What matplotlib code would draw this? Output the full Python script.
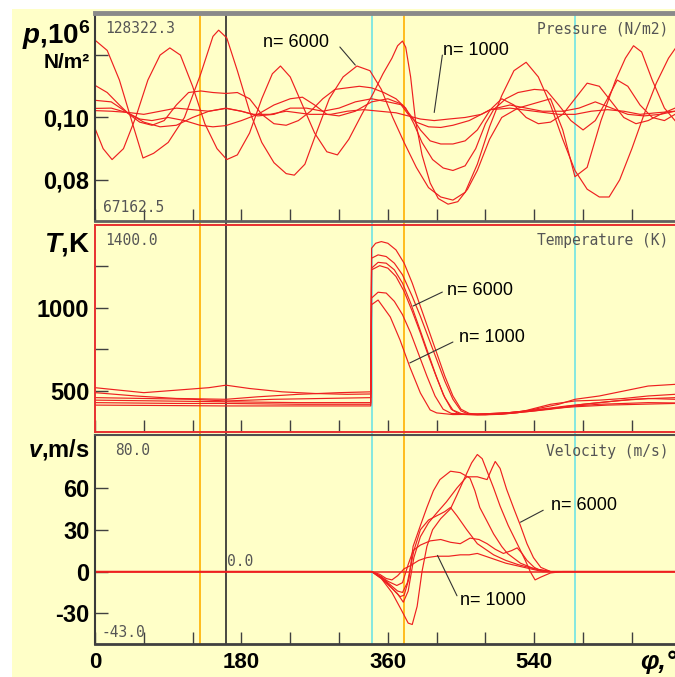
import matplotlib
matplotlib.use("Agg")
import matplotlib.pyplot as plt
import matplotlib.transforms as mtransforms
from matplotlib.patches import Rectangle
from matplotlib.lines import Line2D

plt.rcParams['font.family'] = ['Liberation Sans', 'DejaVu Sans']
plt.rcParams['font.weight'] = 'bold'
plt.rcParams['mathtext.fontset'] = 'custom'
plt.rcParams['mathtext.rm'] = 'Liberation Sans:bold'
plt.rcParams['mathtext.it'] = 'Liberation Sans:bold:italic'
plt.rcParams['mathtext.bf'] = 'Liberation Sans:bold'

# ---- pressure, MPa (6 runs)
p1_phi = [0, 15, 30, 45, 59, 72, 90, 110, 130, 145, 152, 162, 175, 190, 205, 220, 235, 245, 258, 272,
          288, 305, 322, 338, 352, 366, 380, 395, 410, 425, 440, 455, 470, 485, 500, 515, 530, 545, 560, 575,
          590, 605, 620, 632, 645, 660, 675, 690, 705, 713]
p1 = [.1248, .1215, .1120, .0990, .0870, .0885, .0920, .1000, .1140, .1260, .1280, .1255, .1150, .1020, .0920,
      .0855, .0820, .0815, .0850, .0950, .1060, .1130, .1165, .1150, .1090, .1000, .0920, .0840, .0775, .0745,
      .0735, .0760, .0850, .0970, .1070, .1150, .1177, .1130, .1040, .0930, .0830, .0770, .0745, .0745, .0800,
      .0900, .1010, .1110, .1190, .1220]
p2_phi = [0, 10, 21, 35, 50, 65, 80, 92, 105, 120, 135, 150, 162, 175, 190, 205, 218, 228, 240, 255,
          270, 285, 298, 312, 328, 342, 354, 365, 372, 378, 382, 388, 394, 402, 412, 422, 434, 446, 458, 470,
          485, 500, 520, 540, 560, 575, 590, 605, 622, 640, 652, 662, 672, 685, 700, 713]
p2 = [.0965, .0900, .0865, .0900, .1000, .1120, .1200, .1223, .1200, .1100, .0980, .0900, .0865, .0880, .0950,
      .1060, .1140, .1165, .1130, .1040, .0950, .0890, .0880, .0930, .1010, .1077, .1140, .1190, .1230, .1245,
      .1225, .1130, .0990, .0880, .0790, .0740, .0722, .0730, .0770, .0830, .0930, .1000, .1030, .1045, .1060,
      .0960, .0810, .0840, .0990, .1120, .1190, .1230, .1210, .1120, .1030, .0990]
p3_phi = [0, 15, 30, 42, 55, 70, 85, 100, 115, 130, 145, 161, 175, 190, 205, 220, 235, 250, 265, 280,
          295, 310, 325, 340, 355, 370, 382, 392, 402, 415, 428, 440, 455, 468, 480, 490, 505, 520, 540, 555,
          570, 585, 600, 615, 630, 642, 655, 670, 685, 700, 713]
p3 = [.1103, .1080, .1040, .1010, .0985, .0975, .0990, .1040, .1080, .1085, .1080, .1077, .1080, .1060, .1010,
      .0980, .0975, .0990, .1020, .1060, .1090, .1095, .1100, .1095, .1080, .1060, .1030, .0980, .0920, .0865,
      .0838, .0830, .0845, .0900, .0980, .1025, .1060, .1080, .1090, .1087, .1040, .0990, .0960, .0990, .1060,
      .1120, .1100, .1040, .1000, .0990, .1010]
p4_phi = [0, 20, 40, 60, 80, 100, 120, 140, 161, 180, 200, 220, 240, 260, 280, 300, 320, 340, 360, 378,
          390, 400, 412, 425, 440, 455, 470, 486, 500, 515, 530, 545, 560, 575, 590, 605, 620, 635, 650, 665,
          680, 695, 713]
p4 = [.1055, .1050, .1015, .0985, .0970, .0975, .1000, .1020, .1029, .1020, .1005, .1010, .1030, .1030, .1020,
      .1030, .1050, .1060, .1050, .1040, .1000, .0960, .0925, .0915, .0915, .0925, .0960, .1025, .1060, .1040,
      .1000, .0980, .0985, .1010, .1060, .1110, .1100, .1050, .1000, .0980, .0990, .1010, .1030]
p5_phi = [0, 20, 40, 55, 70, 90, 110, 129, 145, 161, 180, 200, 220, 240, 255, 270, 285, 300, 320, 340,
          360, 375, 385, 395, 410, 425, 440, 460, 486, 510, 530, 550, 575, 595, 615, 635, 655, 675, 695, 713]
p5 = [.1029, .1030, .1015, .0995, .0990, .1000, .0990, .0975, .0970, .0974, .0990, .1010, .1040, .1060, .1065,
      .1040, .1010, .1005, .1020, .1050, .1060, .1045, .1010, .0985, .0970, .0968, .0975, .0990, .1025, .1040,
      .1030, .1020, .1020, .1030, .1050, .1030, .1010, .1005, .1010, .1020]
p6_phi = [0, 20, 41, 60, 80, 100, 120, 140, 161, 180, 195, 215, 235, 264, 290, 310, 330, 350, 370, 385,
          400, 417, 435, 455, 475, 486, 510, 540, 570, 590, 610, 630, 650, 670, 690, 713]
p6 = [.1022, .1020, .1016, .1010, .1020, .1030, .1025, .1020, .1030, .1020, .1010, .1010, .1020, .1010, .1010,
      .1020, .1025, .1020, .1015, .1005, .0995, .0990, .0995, .1000, .1010, .1025, .1030, .1020, .1010, .1010,
      .1020, .1025, .1020, .1010, .1015, .1020]

# ---- temperature, K
t1_phi = [0, 40, 60, 100, 140, 161, 190, 230, 270, 310, 339, 340, 345, 352, 360, 370, 380, 390, 400, 410,
          420, 430, 440, 450, 460, 470, 490, 510, 530, 550, 570, 590, 620, 650, 680, 713]
t1 = [520, 500, 490, 505, 520, 535, 515, 495, 485, 480, 482, 1360, 1390, 1400, 1390, 1350, 1270, 1150, 1010, 870,
      730, 590, 470, 390, 365, 360, 365, 370, 380, 400, 420, 450, 470, 500, 530, 540]
t2_phi = [0, 50, 100, 161, 200, 250, 300, 339, 340, 348, 358, 368, 378, 390, 400, 410, 420, 430, 440, 450,
          460, 480, 500, 520, 540, 560, 590, 620, 650, 680, 713]
t2 = [490, 470, 455, 450, 465, 480, 490, 495, 1300, 1320, 1310, 1270, 1200, 1070, 950, 820, 690, 560, 450, 380,
      360, 358, 362, 370, 395, 420, 440, 445, 455, 470, 480]
t3_phi = [0, 60, 120, 161, 220, 280, 339, 340, 348, 358, 368, 378, 388, 398, 408, 418, 428, 438, 448, 470,
          500, 530, 560, 590, 620, 650, 680, 713]
t3 = [460, 455, 450, 440, 450, 455, 460, 1240, 1275, 1270, 1230, 1150, 1030, 890, 750, 610, 480, 390, 360, 355,
      360, 375, 390, 410, 420, 425, 430, 428]
t4_phi = [0, 80, 161, 250, 339, 340, 350, 360, 370, 380, 390, 400, 410, 420, 430, 440, 452, 480, 510, 540,
          570, 600, 640, 680, 713]
t4 = [445, 440, 435, 430, 430, 1230, 1255, 1240, 1190, 1100, 980, 850, 710, 580, 460, 385, 360, 358, 365, 380,
      400, 420, 440, 455, 450]
t5_phi = [0, 100, 161, 250, 339, 340, 348, 358, 368, 378, 388, 398, 408, 418, 428, 438, 460, 500, 540, 580,
          620, 660, 713]
t5 = [430, 425, 425, 420, 420, 1060, 1095, 1090, 1040, 960, 850, 720, 590, 470, 390, 365, 360, 365, 385, 410,
      430, 450, 460]
t6_phi = [0, 100, 161, 250, 339, 340, 348, 363, 375, 387, 400, 412, 420, 440, 470, 510, 550, 590, 630, 670, 713]
t6 = [415, 412, 410, 410, 410, 1020, 1048, 946, 807, 645, 488, 386, 368, 358, 360, 370, 390, 405, 415, 420, 425]

# ---- velocity, m/s
v1_phi = [0, 340, 352, 365, 377, 385, 390, 396, 402, 408, 415, 425, 437, 445, 455, 463, 470, 476, 482, 490,
          498, 508, 519, 529, 535, 541, 548, 560, 575, 713]
v1 = [0, 0, -5, -15, -28, -37, -38, -25, 0, 18, 30, 38, 45, 55, 68, 78, 84, 81, 72, 60,
      47, 33, 20, 8, 0, -6, -4, -1, 0, 0]
v2_phi = [0, 340, 352, 362, 372, 379, 385, 392, 400, 410, 420, 432, 445, 457, 470, 482, 488, 492, 498, 506,
          515, 523, 531, 539, 548, 560, 713]
v2 = [0, 0, -4, -10, -16, -22, -14, 10, 25, 35, 42, 50, 60, 68, 68, 66, 74, 79, 74, 59,
      45, 33, 20, 10, 3, 0, 0]
v3_phi = [0, 340, 352, 365, 375, 380, 386, 391, 400, 408, 416, 424, 437, 449, 461, 467, 473, 482, 490, 500,
          507, 523, 540, 560, 713]
v3 = [0, 0, -5, -12, -18, -17, -5, 18, 33, 46, 58, 66, 72, 71, 67, 58, 46, 36, 27, 18,
      13, 6, 2, 0, 0]
v4_phi = [0, 340, 352, 362, 372, 378, 384, 392, 400, 410, 420, 430, 437, 445, 457, 470, 490, 505, 520, 540,
          560, 713]
v4 = [0, 0, -4, -9, -14, -15, -8, 15, 30, 37, 40, 43, 46, 40, 30, 20, 12, 8, 5, 2, 0, 0]
v5_phi = [0, 340, 350, 360, 371, 378, 385, 391, 400, 412, 425, 437, 449, 461, 472, 482, 492, 502, 512, 519,
          525, 531, 540, 550, 713]
v5 = [0, 0, -3, -7, -10, -8, 5, 15, 19, 22, 23, 21, 20, 24, 23, 20, 16, 13, 15, 17, 13, 8, 3, 0, 0]
v6_phi = [0, 340, 350, 358, 365, 372, 380, 387, 398, 408, 420, 435, 449, 460, 470, 480, 490, 505, 520, 535,
          550, 713]
v6 = [0, 0, -2, -5, -6, -3, 2, 4, 8, 10, 11, 11, 12, 12, 13, 11, 9, 6, 4, 2, 0, 0]

# markers along the crank angle
vline_phi = [129, 161, 340, 380, 590]
vline_col = ['#ffb000', '#2a2a2a', '#70e4e4', '#ffb000', '#70e4e4']

x_ticks = [0, 60, 120, 180, 240, 300, 360, 420, 480, 540, 600, 660]
x_labels = ['0', '', '', '180', '', '', '360', '', '', '540', '', '']
p_ticks = [0.08, 0.10, 0.12]
p_labels = ['0,08', '0,10', '']
t_ticks = [500, 750, 1000, 1250]
t_labels = ['500', '', '1000', '']
v_ticks = [-30, 0, 30, 60]
v_labels = ['-30', '0', '30', '60']

BG = '#ffffc8'
RED = '#ee2020'
W, H = 675, 677

fig = plt.figure(figsize=(W / 100, H / 100), dpi=100, facecolor='white')
fig.patches.append(Rectangle((12 / W, 0), 1, 1 - 9 / H, transform=fig.transFigure,
                             facecolor=BG, edgecolor='none', zorder=-2))


def panel(top, bottom):
    return fig.add_axes([95 / W, 1 - bottom / H, 580 / W, (bottom - top) / H])


ax_p = panel(13, 221)
ax_t = panel(225, 432)
ax_v = panel(435, 644)

for ax in (ax_p, ax_t, ax_v):
    ax.set_facecolor(BG)
    ax.set_xlim(0, 713)
    ax.set_xticks(x_ticks)
    ax.set_xticklabels(x_labels)
    ax.tick_params(direction='in', length=9, width=1, color='#404040',
                   labelsize=17, pad=4)
    ax.tick_params(axis='x', labelsize=16, pad=6)
    ax.spines['right'].set_visible(False)
    for x, c in zip(vline_phi, vline_col):
        ax.axvline(x, color=c, lw=1.2, zorder=1)

ax_p.tick_params(axis='x', labelbottom=False)
ax_t.tick_params(axis='x', labelbottom=False)

LW = 0.85

# pressure
ax_p.set_ylim(0.0668, 0.1335)
ax_p.set_yticks(p_ticks)
ax_p.set_yticklabels(p_labels)
for xs, ys in [(p1_phi, p1), (p2_phi, p2), (p3_phi, p3), (p4_phi, p4), (p5_phi, p5), (p6_phi, p6)]:
    ax_p.plot(xs, ys, color=RED, lw=LW, zorder=2)
ax_p.spines['top'].set_color('#8a8a8a')
ax_p.spines['top'].set_linewidth(3.5)
ax_p.spines['left'].set_color('#3a3a3a')
ax_p.spines['left'].set_linewidth(1.5)
ax_p.spines['bottom'].set_color('#606060')
ax_p.spines['bottom'].set_linewidth(2)

# temperature
ax_t.set_ylim(253, 1500)
ax_t.set_yticks(t_ticks)
ax_t.set_yticklabels(t_labels)
for xs, ys in [(t1_phi, t1), (t2_phi, t2), (t3_phi, t3), (t4_phi, t4), (t5_phi, t5), (t6_phi, t6)]:
    ax_t.plot(xs, ys, color=RED, lw=LW, zorder=2)
for s in ('top', 'left', 'bottom'):
    ax_t.spines[s].set_color('#e83030')
    ax_t.spines[s].set_linewidth(1.4)

# velocity
ax_v.set_ylim(-52, 98)
ax_v.set_yticks(v_ticks)
ax_v.set_yticklabels(v_labels)
ax_v.axhline(0, color=RED, lw=1.1, zorder=2)
for xs, ys in [(v1_phi, v1), (v2_phi, v2), (v3_phi, v3), (v4_phi, v4), (v5_phi, v5), (v6_phi, v6)]:
    ax_v.plot(xs, ys, color=RED, lw=LW, zorder=2)
ax_v.spines['top'].set_color('#505050')
ax_v.spines['top'].set_linewidth(1.5)
ax_v.spines['left'].set_color('#3a3a3a')
ax_v.spines['left'].set_linewidth(1.5)
ax_v.spines['bottom'].set_color('#404040')
ax_v.spines['bottom'].set_linewidth(2)

# vertical marker lines running through the gaps between panels
trans = mtransforms.blended_transform_factory(ax_v.transData, fig.transFigure)
for x, c in zip(vline_phi, vline_col):
    fig.add_artist(Line2D([x, x], [1 - 644 / H, 1 - 13 / H], transform=trans,
                          color=c, lw=1.2, zorder=-1))

# instrument read-outs inside the panels
mono = dict(family='DejaVu Sans Mono', fontweight='normal', fontsize=10.5, color='#555555')
ax_p.text(0.017, 0.925, '128322.3', transform=ax_p.transAxes, va='center', **mono)
ax_p.text(0.014, 0.065, '67162.5', transform=ax_p.transAxes, va='center', **mono)
ax_p.text(0.988, 0.925, 'Pressure (N/m2)', transform=ax_p.transAxes, ha='right', va='center', **mono)
ax_t.text(0.017, 0.925, '1400.0', transform=ax_t.transAxes, va='center', **mono)
ax_t.text(0.988, 0.925, 'Temperature (K)', transform=ax_t.transAxes, ha='right', va='center', **mono)
ax_v.text(0.034, 0.925, '80.0', transform=ax_v.transAxes, va='center', **mono)
ax_v.text(0.012, 0.055, '-43.0', transform=ax_v.transAxes, va='center', **mono)
ax_v.text(0.988, 0.92, 'Velocity (m/s)', transform=ax_v.transAxes, ha='right', va='center', **mono)
ax_v.text(162, 1.5, '0.0', va='bottom', **mono)

# n= callouts
lead = dict(arrowstyle='-', color='#333333', lw=0.8, shrinkA=0, shrinkB=0)
note = dict(fontsize=13, fontweight='normal', va='center')
ax_p.text(207, 0.1242, 'n= 6000', **note)
ax_p.annotate('', xy=(320, 0.1168), xytext=(301, 0.1226), arrowprops=lead)
ax_p.text(428, 0.1216, 'n= 1000', **note)
ax_p.annotate('', xy=(417, 0.1016), xytext=(427, 0.1200), arrowprops=lead)
ax_t.text(433, 1108, 'n= 6000', **note)
ax_t.annotate('', xy=(391, 1012), xytext=(427, 1096), arrowprops=lead)
ax_t.text(448, 825, 'n= 1000', **note)
ax_t.annotate('', xy=(387, 669), xytext=(440, 795), arrowprops=lead)
ax_v.text(560, 47.7, 'n= 6000', **note)
ax_v.annotate('', xy=(523, 35.4), xytext=(551, 44), arrowprops=lead)
ax_v.text(449, -21, 'n= 1000', **note)
ax_v.annotate('', xy=(421, 11.6), xytext=(445, -17.4), arrowprops=lead)

# hand-lettered axis names on the left
fig.text(91 / W, 1 - 35 / H, r'$\mathit{p}\mathrm{{,}10}^{\mathrm{6}}$', fontsize=20, ha='right', va='center')
fig.text(90 / W, 1 - 63 / H, 'N/m²', fontsize=15, ha='right', va='center')
fig.text(90 / W, 1 - 244 / H, r'$\mathit{T}\mathrm{{,}K}$', fontsize=20, ha='right', va='center')
fig.text(90 / W, 1 - 450 / H, r'$\mathit{v}\mathrm{{,}m/s}$', fontsize=17, ha='right', va='center')
fig.text(640 / W, 1 - 662 / H, 'φ,°', fontsize=19, fontstyle='italic', ha='left', va='center')

fig.savefig('out.png', dpi=100, facecolor='white')
